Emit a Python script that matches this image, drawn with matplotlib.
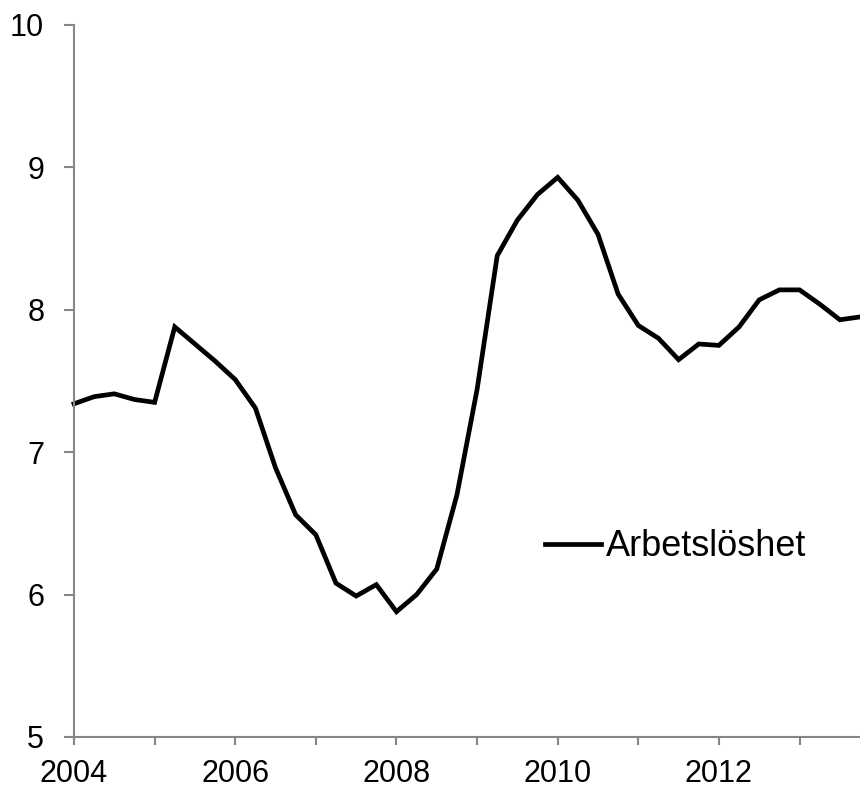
import numpy as np
import matplotlib
matplotlib.use("Agg")
import matplotlib.pyplot as plt

# Quarterly unemployment rate, 2004Q1 - 2013Q4
years = [2004, 2005, 2006, 2007, 2008, 2009, 2010, 2011, 2012, 2013]
quarter_offsets = [0.0, 0.25, 0.5, 0.75]
unemployment = [
    7.34, 7.39, 7.41, 7.37,
    7.35, 7.88, 7.76, 7.64,
    7.51, 7.31, 6.89, 6.56,
    6.42, 6.08, 5.99, 6.07,
    5.88, 6.00, 6.18, 6.70,
    7.44, 8.38, 8.63, 8.81,
    8.93, 8.77, 8.53, 8.11,
    7.89, 7.80, 7.65, 7.76,
    7.75, 7.88, 8.07, 8.14,
    8.14, 8.04, 7.93, 7.95,
]
series_label = "Arbetslöshet"
y_ticks = [5, 6, 7, 8, 9, 10]
x_label_years = [2004, 2006, 2008, 2010, 2012]

t = [y + q for y in years for q in quarter_offsets]

plt.rcParams['font.family'] = ['Liberation Sans', 'DejaVu Sans']
axis_gray = "#868686"
tick_fs = 22
legend_fs = 26

fig = plt.figure(figsize=(8.6, 7.9), dpi=100)
ax = fig.add_axes([74 / 860, 53 / 790, (860 - 74) / 860, 712 / 790])

ax.plot(t, unemployment, color="black", lw=3.4, solid_joinstyle="miter",
        label=series_label, clip_on=False)

ax.set_xlim(2004, 2013.75)
ax.set_ylim(5, 10)
ax.set_yticks(y_ticks)
ax.set_xticks(years)
ax.set_xticklabels([str(y) if y in x_label_years else "" for y in years])

for side in ["top", "right"]:
    ax.spines[side].set_visible(False)
for side in ["left", "bottom"]:
    ax.spines[side].set_color(axis_gray)
    ax.spines[side].set_linewidth(1.5)

ax.tick_params(axis="both", colors=axis_gray, labelcolor="black",
               labelsize=tick_fs, width=1.5)
ax.tick_params(axis="x", length=6, pad=10)
ax.tick_params(axis="y", length=7.5, pad=14)

leg = ax.legend(loc="center left", bbox_to_anchor=(0.599, 0.267),
                frameon=False, fontsize=legend_fs, handlelength=1.55,
                handletextpad=0.14, borderpad=0, borderaxespad=0)

fig.savefig("out.png", dpi=100)
